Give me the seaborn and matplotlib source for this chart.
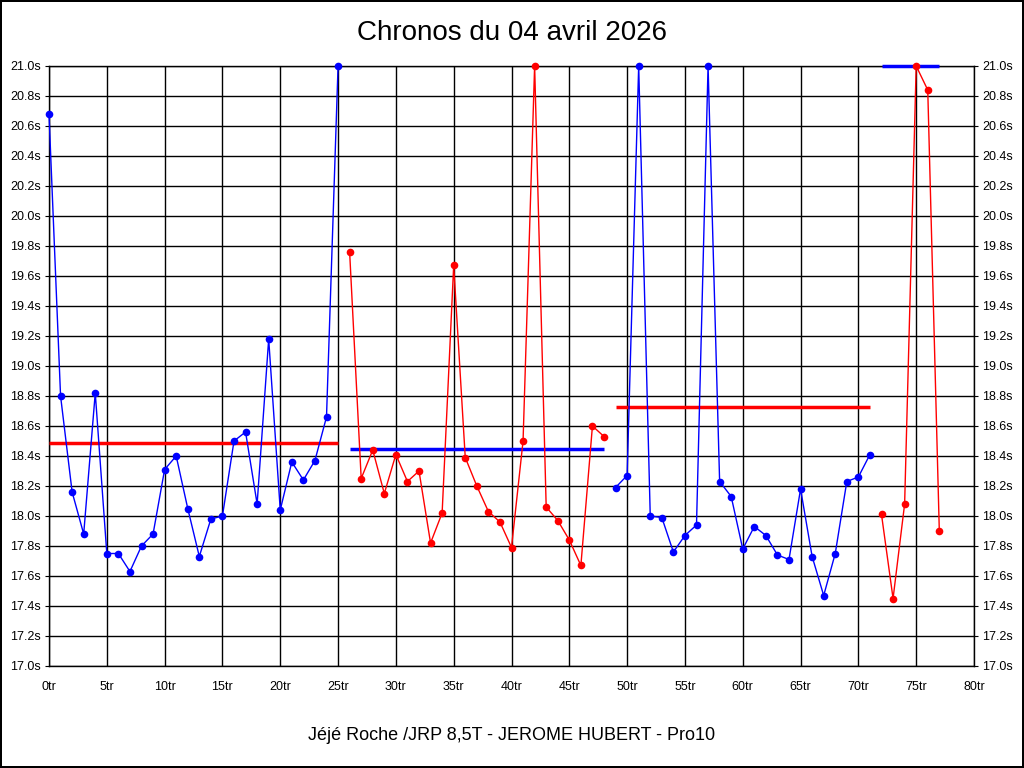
import matplotlib
matplotlib.use("Agg")
import matplotlib.pyplot as plt
import pandas as pd
import seaborn as sns

# lap times per stint (values capped at 21.0 in the chart)
laps_1 = list(range(0, 26))
times_1 = [20.68, 18.80, 18.16, 17.88, 18.82, 17.75, 17.75, 17.63, 17.80, 17.88,
           18.31, 18.40, 18.05, 17.73, 17.98, 18.00, 18.50, 18.56, 18.08, 19.18,
           18.04, 18.36, 18.24, 18.37, 18.66, 21.00]
laps_2 = list(range(26, 49))
times_2 = [19.76, 18.25, 18.44, 18.15, 18.41, 18.23, 18.30, 17.82, 18.02, 19.67,
           18.39, 18.20, 18.03, 17.96, 17.79, 18.50, 21.00, 18.06, 17.97, 17.84,
           17.67, 18.60, 18.53]
laps_3 = list(range(49, 72))
times_3 = [18.19, 18.27, 21.00, 18.00, 17.99, 17.76, 17.87, 17.94, 21.00, 18.23,
           18.13, 17.78, 17.93, 17.87, 17.74, 17.71, 18.18, 17.73, 17.47, 17.75,
           18.23, 18.26, 18.41]
laps_4 = list(range(72, 78))
times_4 = [18.01, 17.45, 18.08, 21.00, 20.84, 17.90]

stint_means = [18.49, 18.45, 18.73, 21.00]
stint_colors = ["blue", "red", "blue", "red"]
mean_colors = ["red", "blue", "red", "blue"]

title = "Chronos du 04 avril 2026"
footer = "Jéjé Roche /JRP 8,5T - JEROME HUBERT - Pro10"

stints = [(laps_1, times_1), (laps_2, times_2), (laps_3, times_3), (laps_4, times_4)]
frames = []
for i, (l, t) in enumerate(stints):
    frames.append(pd.DataFrame({"lap": l, "time": t, "stint": i}))
df = pd.concat(frames, ignore_index=True)

sns.set_style("white")
plt.rcParams['font.family'] = ['Liberation Sans', 'DejaVu Sans']
plt.rcParams['text.color'] = 'black'
plt.rcParams['xtick.color'] = 'black'
plt.rcParams['ytick.color'] = 'black'

fig = plt.figure(figsize=(10.24, 7.68), dpi=100)
fig.patch.set_edgecolor("black")
fig.patch.set_linewidth(1.5)
ax = fig.add_axes([49 / 1024, 1 - 666 / 768, 925 / 1024, 600 / 768])

# grid
ax.set_xticks(range(0, 81, 5))
ax.set_yticks([17.0 + 0.2 * k for k in range(21)])
ax.grid(True, color="black", linewidth=1)
ax.set_axisbelow(True)

sns.lineplot(data=df, x="lap", y="time", hue="stint", palette=stint_colors,
             estimator=None, marker="o", markersize=5.5, markeredgewidth=0,
             linewidth=1, legend=False, ax=ax, clip_on=False, zorder=3)

# stint averages
for i, (l, t) in enumerate(stints):
    ax.plot([l[0], l[-1]], [stint_means[i]] * 2, color=mean_colors[i],
            linewidth=2.5, solid_capstyle="butt", zorder=2.7, clip_on=False)

ax.set_xlim(0, 80)
ax.set_ylim(17.0, 21.0)
ax.set_xticklabels([f"{v}tr" for v in range(0, 81, 5)])
ax.set_yticklabels([f"{17.0 + 0.2 * k:.1f}s" for k in range(21)])
ax.tick_params(axis="both", labelsize=9, length=3, color="black", labelcolor="black")
ax.tick_params(axis="x", pad=8)
ax.tick_params(axis="y", left=True, right=True, labelleft=True, labelright=True, pad=3)
ax.set_xlabel("")
ax.set_ylabel("")
for s in ax.spines.values():
    s.set_color("black")
    s.set_linewidth(1)

fig.text(0.5, 1 - 33 / 768, title, ha="center", va="center", fontsize=20, color="black")
fig.text(0.5, 1 - 735 / 768, footer, ha="center", va="center", fontsize=13, color="black")

fig.savefig("out.png", dpi=100, edgecolor=fig.get_edgecolor())
